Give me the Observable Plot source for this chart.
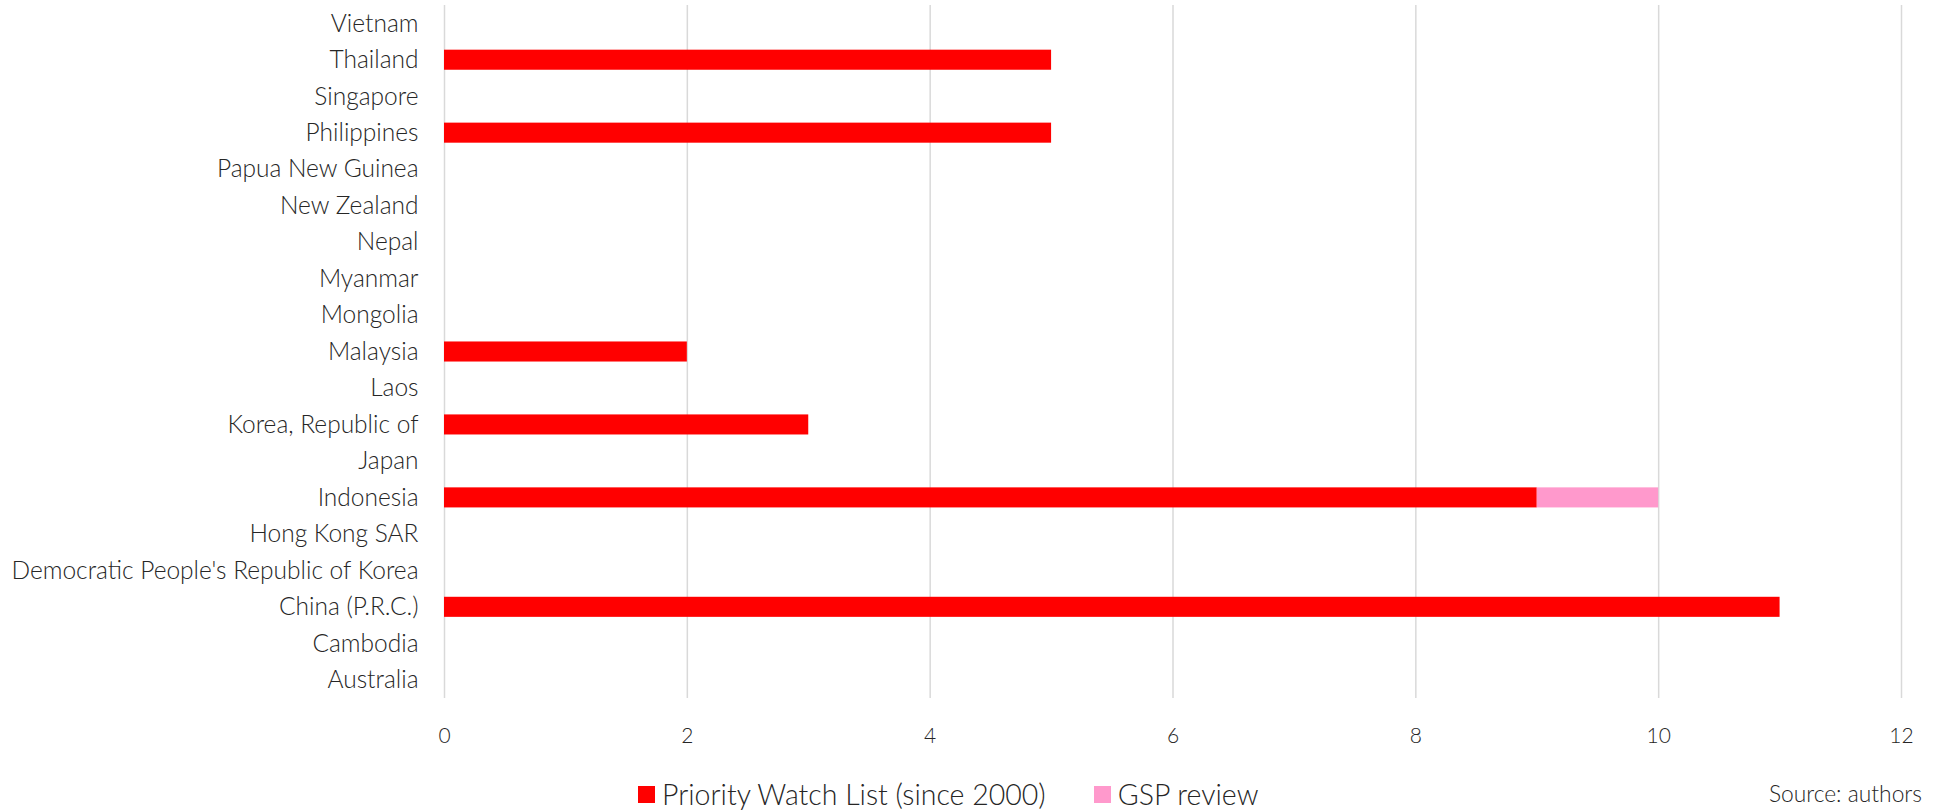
<!DOCTYPE html>
<html>
<head>
<meta charset="utf-8">
<script src="https://cdn.jsdelivr.net/npm/d3@7"></script>
<script src="https://cdn.jsdelivr.net/npm/@observablehq/plot@0.6"></script>
<style>
  body { margin: 0; background: #fff; font-family: Lato, "Open Sans", sans-serif; font-weight: 300; color: #262626; }
  #wrap { position: relative; width: 1940px; height: 810px; }
  #legend { position: absolute; left: 638px; top: 777px; display: flex; align-items: center; font-size: 28.5px; white-space: nowrap; }
  .sw { display: inline-block; width: 17px; height: 17px; margin-right: 7px; }
  .item { display: flex; align-items: center; margin-right: 48px; }
  #source { position: absolute; right: 18px; top: 779px; font-size: 22.8px; }
  svg text { font-family: Lato, "Open Sans", sans-serif; font-weight: 300; fill: #262626; }
</style>
</head>
<body>
<div id="wrap">
  <div id="chart"></div>
  <div id="legend"></div>
  <div id="source">Source: authors</div>
</div>
<script>
const countries = ["Vietnam", "Thailand", "Singapore", "Philippines", "Papua New Guinea", "New Zealand", "Nepal", "Myanmar", "Mongolia", "Malaysia", "Laos", "Korea, Republic of", "Japan", "Indonesia", "Hong Kong SAR", "Democratic People's Republic of Korea", "China (P.R.C.)", "Cambodia", "Australia"];
const seriesNames = ["Priority Watch List (since 2000)", "GSP review"];
const seriesColors = ["#ff0000", "#ff99cc"];
const priorityWatch = [0, 5, 0, 5, 0, 0, 0, 0, 0, 2, 0, 3, 0, 9, 0, 0, 11, 0, 0];
const gspReview =     [0, 0, 0, 0, 0, 0, 0, 0, 0, 0, 0, 0, 0, 1, 0, 0, 0, 0, 0];
const xTicks = [0, 2, 4, 6, 8, 10, 12];

const rows = [];
countries.forEach((c, i) => {
  rows.push({country: c, series: seriesNames[0], value: priorityWatch[i]});
  rows.push({country: c, series: seriesNames[1], value: gspReview[i]});
});

const chart = Plot.plot({
  width: 1940,
  height: 760,
  marginTop: 5,
  marginBottom: 62,
  marginLeft: 444,
  marginRight: 39,
  style: {fontSize: "24.5px", background: "white"},
  x: {domain: [0, 12], ticks: xTicks, label: null, tickSize: 0, tickPadding: 30, grid: false},
  y: {domain: countries, label: null, tickSize: 0, tickPadding: 26, paddingInner: 0.45, paddingOuter: 0.225, round: false},
  color: {domain: seriesNames, range: seriesColors},
  marks: [
    Plot.ruleX(xTicks, {stroke: "#d9d9d9", strokeWidth: 1.5}),
    Plot.barX(rows, Plot.stackX({x: "value", y: "country", fill: "series", order: seriesNames})),
    Plot.axisX({ticks: xTicks, tickSize: 0, tickPadding: 30, label: null, fontSize: "21px"}),
    Plot.axisY({tickSize: 0, tickPadding: 26, label: null, fontSize: "24.5px"})
  ]
});
document.getElementById("chart").appendChild(chart);

const legend = document.getElementById("legend");
seriesNames.forEach((s, i) => {
  const item = document.createElement("span");
  item.className = "item";
  const sw = document.createElement("span");
  sw.className = "sw";
  sw.style.background = seriesColors[i];
  item.appendChild(sw);
  item.appendChild(document.createTextNode(s));
  legend.appendChild(item);
});
</script>
</body>
</html>
